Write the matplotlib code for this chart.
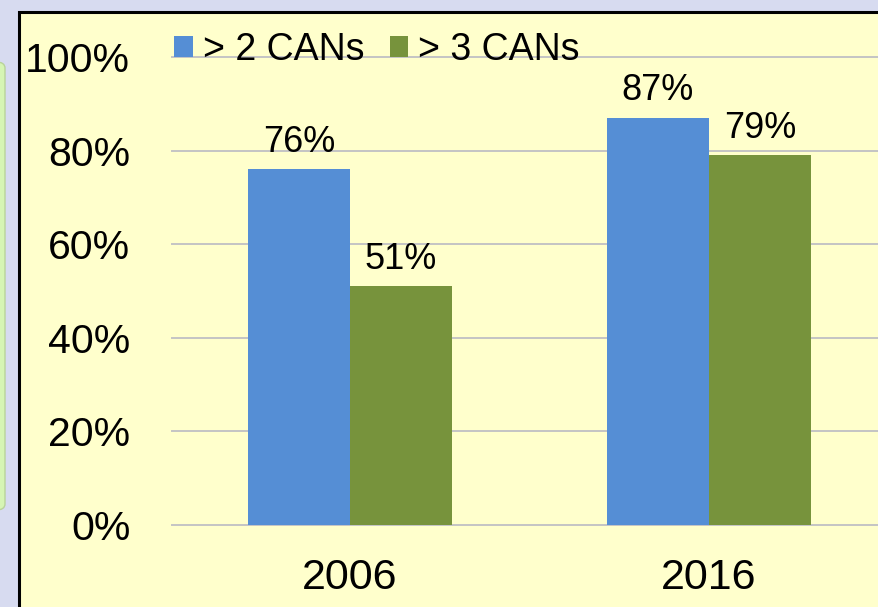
import numpy as np
import matplotlib.pyplot as plt
from matplotlib.patches import Rectangle, FancyBboxPatch

# chart values
years = ['2006', '2016']
more_than_2 = [0.76, 0.87]
more_than_3 = [0.51, 0.79]
series_names = ['> 2 CANs', '> 3 CANs']
yticks = [0, 0.2, 0.4, 0.6, 0.8, 1.0]
ytick_labels = ['0%', '20%', '40%', '60%', '80%', '100%']

blue = '#558ed5'
green = '#77933c'
paper = '#ffffcc'

plt.rcParams['font.family'] = ['Liberation Sans', 'DejaVu Sans']

W, H = 879, 607
fig = plt.figure(figsize=(W / 100, H / 100), dpi=100)
fig.patch.set_facecolor('#d7dbf0')

# bits of the slide around the chart (kept under the axes)
panel = FancyBboxPatch((-20 / W, 1 - 510 / H), 25 / W, 448 / H,
                       boxstyle='round,pad=0,rounding_size=0.01',
                       transform=fig.transFigure, facecolor='#d6f5b4',
                       edgecolor='#b9d39a', lw=1, zorder=-2)
fig.patches.append(panel)
box = Rectangle((19 / W, -0.2), 1.2, 0.2 + (1 - 12 / H),
                transform=fig.transFigure, facecolor=paper,
                edgecolor='black', lw=2.2, zorder=-1)
fig.patches.append(box)

x = np.arange(len(years))
px_per_cat = 359.0
bw = 102 / px_per_cat
left_px, right_px = 172, 879
ax = fig.add_axes([left_px / W, (H - 525) / H, (right_px - left_px) / W, (525 - 57) / H])
ax.set_facecolor('none')
ax.set_xlim(-(350 - left_px) / px_per_cat, (right_px - 350) / px_per_cat)
ax.set_ylim(0, 1)

for y in yticks:
    ax.axhline(y, color='#c4c4c4', lw=1.4, zorder=0, clip_on=False)

b1 = ax.bar(x - bw / 2, more_than_2, bw, color=blue, label=series_names[0], zorder=2)
b2 = ax.bar(x + bw / 2, more_than_3, bw, color=green, label=series_names[1], zorder=2)

for bars, vals in ((b1, more_than_2), (b2, more_than_3)):
    for r, v in zip(bars, vals):
        ax.annotate(f'{round(v * 100)}%', (r.get_x() + r.get_width() / 2, v),
                    xytext=(0, 12.5), textcoords='offset points',
                    ha='center', va='baseline', fontsize=26, clip_on=False)

ax.set_yticks(yticks)
ax.set_yticklabels(ytick_labels)
ax.set_xticks(x)
ax.set_xticklabels(years)
ax.tick_params(axis='y', length=0, pad=30, labelsize=29.5)
ax.tick_params(axis='x', length=0, pad=24, labelsize=31)
for s in ax.spines.values():
    s.set_visible(False)

ax.legend(loc='center left', bbox_to_anchor=(2 / (right_px - left_px), (525 - 49.5) / 468),
          ncol=2, frameon=False, fontsize=27, handlelength=0.5, handleheight=0.5,
          handletextpad=0.27, columnspacing=0.67, borderpad=0, borderaxespad=0)

fig.savefig('out.png', dpi=100, facecolor=fig.get_facecolor())
